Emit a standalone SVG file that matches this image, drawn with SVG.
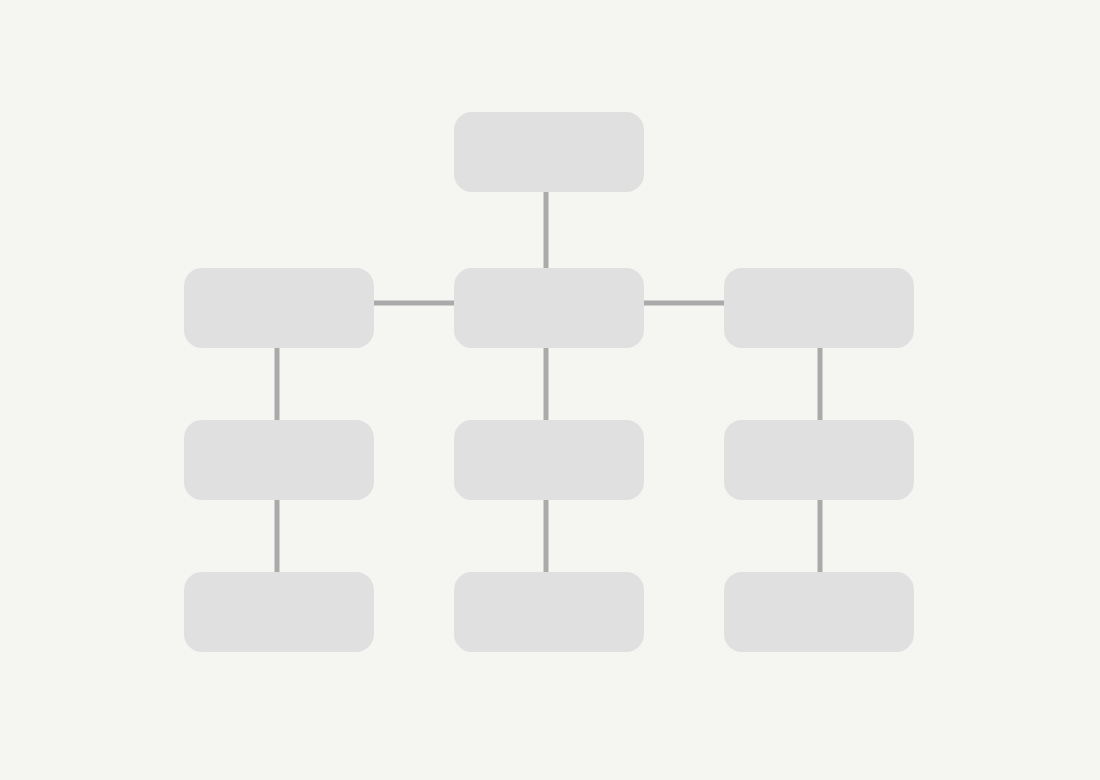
<svg xmlns="http://www.w3.org/2000/svg" width="1100" height="780" viewBox="0 0 1100 780">
<style>
.n{fill:#e0e0e0}
.c{stroke:#aaaaaa;stroke-width:5;fill:none}
</style>
<rect width="1100" height="780" fill="#f5f6f2"/>
<g id="connectors">
<line class="c" x1="546" y1="192" x2="546" y2="268"/>
<line class="c" x1="374" y1="303" x2="454" y2="303"/>
<line class="c" x1="644" y1="303" x2="724" y2="303"/>
<line class="c" x1="277" y1="348" x2="277" y2="420"/>
<line class="c" x1="277" y1="500" x2="277" y2="572"/>
<line class="c" x1="546" y1="348" x2="546" y2="420"/>
<line class="c" x1="546" y1="500" x2="546" y2="572"/>
<line class="c" x1="820" y1="348" x2="820" y2="420"/>
<line class="c" x1="820" y1="500" x2="820" y2="572"/>
</g>
<g id="n-top"><rect class="n" x="454" y="112" width="190" height="80" rx="18"/></g>
<g id="n-l1"><rect class="n" x="184" y="268" width="190" height="80" rx="18"/></g>
<g id="n-m1"><rect class="n" x="454" y="268" width="190" height="80" rx="18"/></g>
<g id="n-r1"><rect class="n" x="724" y="268" width="190" height="80" rx="18"/></g>
<g id="n-l2"><rect class="n" x="184" y="420" width="190" height="80" rx="18"/></g>
<g id="n-m2"><rect class="n" x="454" y="420" width="190" height="80" rx="18"/></g>
<g id="n-r2"><rect class="n" x="724" y="420" width="190" height="80" rx="18"/></g>
<g id="n-l3"><rect class="n" x="184" y="572" width="190" height="80" rx="18"/></g>
<g id="n-m3"><rect class="n" x="454" y="572" width="190" height="80" rx="18"/></g>
<g id="n-r3"><rect class="n" x="724" y="572" width="190" height="80" rx="18"/></g>
</svg>
